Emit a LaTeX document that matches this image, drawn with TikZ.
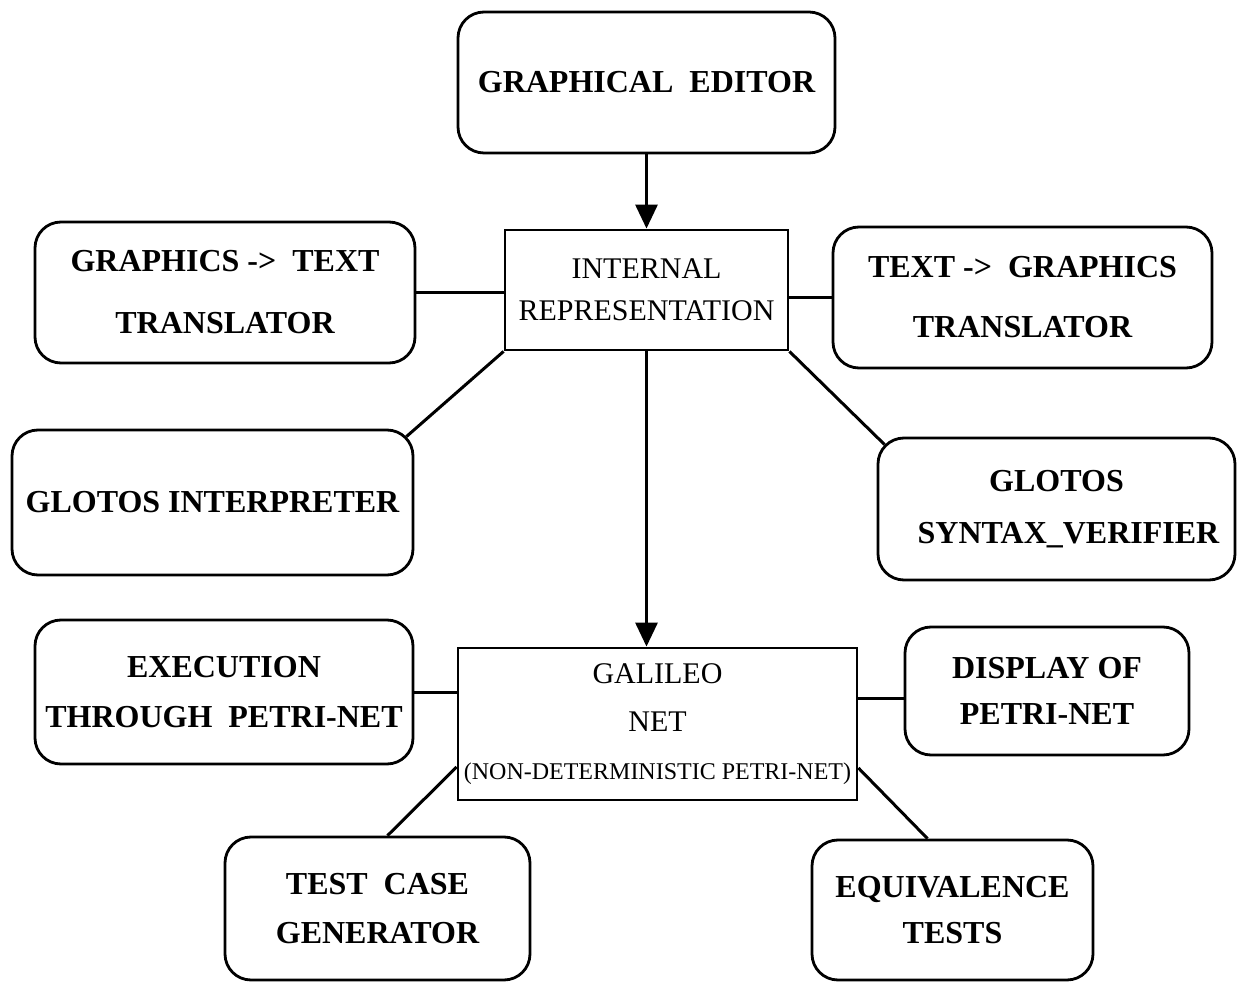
\documentclass[tikz,border=0pt]{standalone}
\usepackage{fontspec}
\setmainfont{Liberation Serif}
\usetikzlibrary{arrows.meta}

\begin{document}
\begin{tikzpicture}[x=0.5pt,y=-0.5pt,
  line width=1.4pt,
  tool/.style={draw, rounded corners=13pt, align=center, inner sep=0pt,
    font=\fontsize{16}{#1}\selectfont\bfseries},
  tool/.default=23,
  core/.style={draw, align=center, inner sep=0pt,
    font=\fontsize{15}{#1}\selectfont},
  core/.default=21,
  link/.style={line width=1.5pt},
  flow/.style={line width=1.5pt, -{Triangle[width=11pt,length=12pt]}}]

\useasboundingbox (0,0) rectangle (1237,983);

% central representations
\node[core=21, minimum width=141.5pt, minimum height=60pt] (ir) at (646.5,290)
  {INTERNAL\\REPRESENTATION};
\node[core=24, minimum width=199.5pt, minimum height=76pt] (gn) at (657.5,724)
  {GALILEO\\NET\\{\fontsize{12}{14}\selectfont (NON-DETERMINISTIC PETRI-NET)}};

% tools around them
\node[tool, minimum width=188.5pt, minimum height=70.5pt] (ge) at (646.5,82.5)
  {GRAPHICAL\ \ EDITOR};
\node[tool=31, minimum width=190pt, minimum height=70.5pt] (gt) at (225,292.5)
  {GRAPHICS ->\ \ TEXT\\TRANSLATOR};
\node[tool=30, minimum width=189.5pt, minimum height=70.5pt] (tg) at (1022.5,297.5)
  {TEXT ->\ \ GRAPHICS\\TRANSLATOR};
\node[tool, minimum width=200.5pt, minimum height=72.5pt] (gi) at (212.5,502.5)
  {GLOTOS INTERPRETER};
\node[tool=26, minimum width=178.5pt, minimum height=71pt] (gs) at (1056.5,509)
  {GLOTOS\\\ \ \ SYNTAX\_VERIFIER};
\node[tool=25, minimum width=189pt, minimum height=72pt] (ex) at (224,692)
  {EXECUTION\\THROUGH\ \ PETRI-NET};
\node[tool=23, minimum width=142pt, minimum height=64pt] (dp) at (1047,691)
  {DISPLAY OF\\PETRI-NET};
\node[tool=24.5, minimum width=152.5pt, minimum height=71.5pt] (tc) at (377.5,908.5)
  {TEST\ \ CASE\\GENERATOR};
\node[tool=23, minimum width=140.5pt, minimum height=70pt] (eq) at (952.5,910)
  {EQUIVALENCE\\TESTS};

% connectors
\draw[flow] (ge.south) -- (ir.north);
\draw[flow] (ir.south) -- (ir.south |- gn.north);
\draw[link] (gt.east) -- (gt.east -| ir.west);
\draw[link] (ir.east |- tg.west) -- (tg.west);
\draw[link] (ir.south west) -- ([shift={(-8,8)}]gi.north east);
\draw[link] (ir.south east) -- ([shift={(8,8)}]gs.north west);
\draw[link] (ex.east) -- (ex.east -| gn.west);
\draw[link] ([yshift=-3.5pt]dp.west -| gn.east) -- ([yshift=-3.5pt]dp.west);
\draw[link] ([yshift=-21.5pt]gn.west) -- ([xshift=5pt]tc.north);
\draw[link] ([yshift=-22pt]gn.east) -- ([xshift=-12.5pt]eq.north);
\end{tikzpicture}
\end{document}
